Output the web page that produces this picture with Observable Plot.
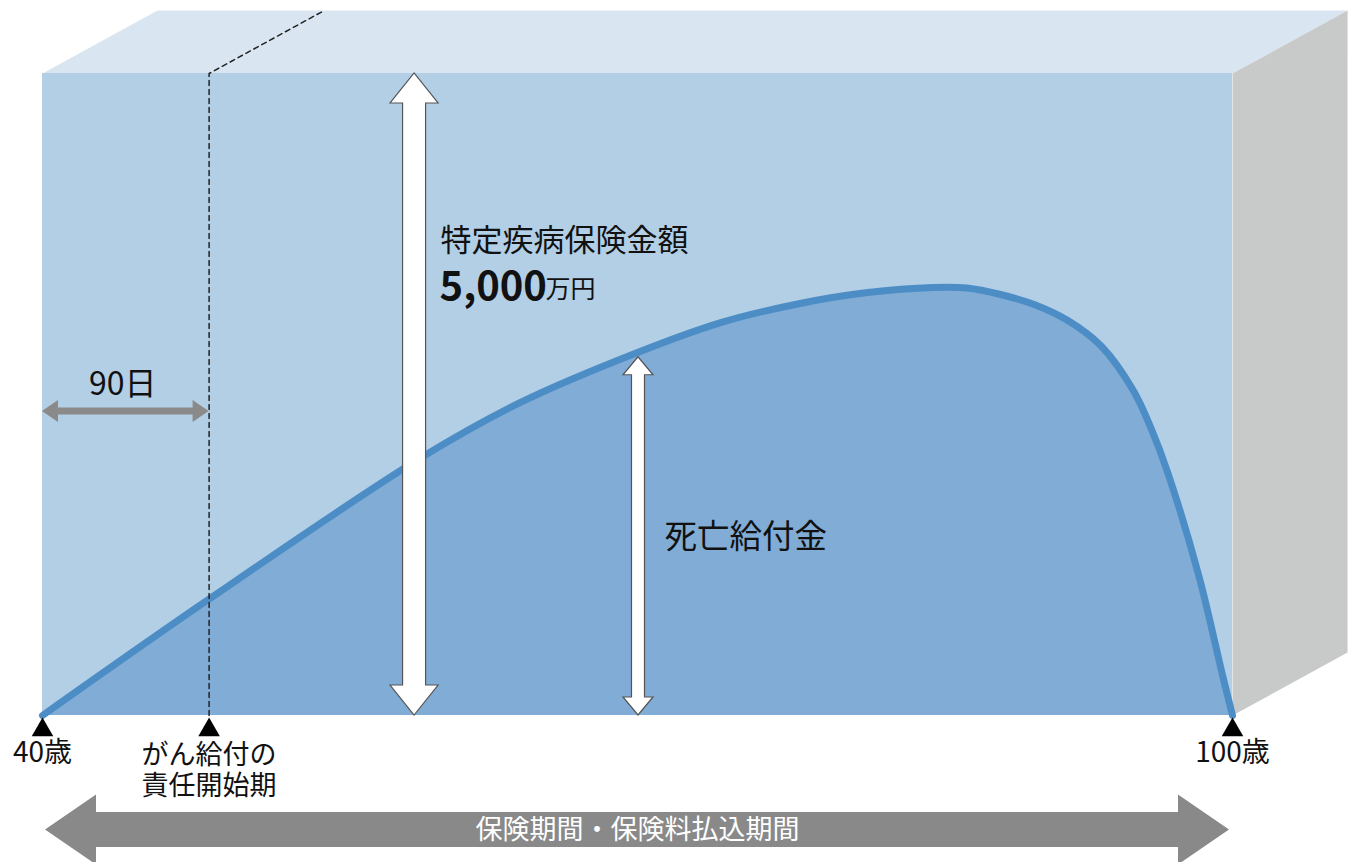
<!DOCTYPE html>
<html><head><meta charset="utf-8">
<script src="https://cdn.jsdelivr.net/npm/d3@7"></script>
<script src="https://cdn.jsdelivr.net/npm/@observablehq/plot@0.6"></script>
<style>body{margin:0;background:#fff} svg{display:block}</style>
</head><body><div id="chart"></div>
<script>
// ---- data ----
const curveAges   = [40, 48.3, 59.1, 64.1, 70.0, 74.2, 78.2, 81.6, 84.9, 86.6, 88.3, 90.0, 91.7, 93.4, 95.0, 95.9, 96.7, 98.3, 99.5, 100];
const curveValues = [0, 896, 2009, 2438, 2827, 3060, 3209, 3294, 3333, 3329, 3279, 3201, 3076, 2874, 2531, 2235, 1908, 1090, 312, 0];
const ageStart = 40, ageEnd = 100, cancerStartAge = 48.4;
const sumInsured = 5000;            // 万円
const markerAges   = [40, 48.4, 100];
const markerLabels = ["40歳", "がん給付の\n責任開始期", "100歳"];
const sumArrowAge = 58.76, deathArrowAge = 70.05, deathArrowTop = 2790;
const depthAge = 5.8, depthValue = 490;  // 3D box depth offsets

const curve = curveAges.map((a, i) => ({age: a, value: curveValues[i]}));
const font = "'Noto Sans CJK JP', 'Noto Sans', sans-serif";

function blockArrow({x1, y1, x2, y2, ox1 = 0, ox2 = 0, oy = 0, shaft, head, headLen, fill, stroke = "none", strokeWidth = 1}) {
  return (index, scales) => {
    const X1 = scales.x(x1) + ox1, X2 = scales.x(x2) + ox2;
    const Y1 = scales.y(y1) + oy, Y2 = scales.y(y2) + oy;
    const L = Math.hypot(X2 - X1, Y2 - Y1), ux = (X2 - X1) / L, uy = (Y2 - Y1) / L, nx = -uy, ny = ux;
    const a = [X1 + ux * headLen, Y1 + uy * headLen], b = [X2 - ux * headLen, Y2 - uy * headLen];
    const p = (q, s) => [q[0] + nx * s, q[1] + ny * s];
    const pts = [[X1, Y1], p(a, head), p(a, shaft), p(b, shaft), p(b, head), [X2, Y2], p(b, -head), p(b, -shaft), p(a, -shaft), p(a, -head)];
    const g = d3.create("svg:g");
    g.append("path").attr("d", "M" + pts.map(q => q.join(",")).join("L") + "Z")
      .attr("fill", fill).attr("stroke", stroke).attr("stroke-width", strokeWidth).attr("stroke-linejoin", "miter");
    return g.node();
  };
}

const topFace = [
  {age: ageStart, value: sumInsured}, {age: ageEnd, value: sumInsured},
  {age: ageEnd + depthAge, value: sumInsured + depthValue}, {age: ageStart + depthAge, value: sumInsured + depthValue}
];
const rightFace = [
  {age: ageEnd, value: 0}, {age: ageEnd, value: sumInsured},
  {age: ageEnd + depthAge, value: sumInsured + depthValue}, {age: ageEnd + depthAge, value: depthValue}
];
const dashed = [
  {age: cancerStartAge, value: 0}, {age: cancerStartAge, value: sumInsured},
  {age: cancerStartAge + depthAge, value: sumInsured + depthValue}
];

const chart = Plot.plot({
  width: 1357, height: 862,
  marginTop: 0, marginRight: 0, marginBottom: 0, marginLeft: 0,
  x: {domain: [ageStart, ageEnd], range: [42, 1232], axis: null},
  y: {domain: [0, sumInsured], range: [715, 73], axis: null},
  style: {fontFamily: font, background: "#fff", overflow: "visible"},
  marks: [
    Plot.line(topFace, {x: "age", y: "value", fill: "#d9e6f1", stroke: "none", curve: "linear-closed"}),
    Plot.line(rightFace, {x: "age", y: "value", fill: "#c8c9c9", stroke: "none", curve: "linear-closed"}),
    Plot.rect([null], {x1: ageStart, x2: ageEnd, y1: 0, y2: sumInsured, fill: "#b3cfe6"}),
    Plot.areaY(curve, {x: "age", y: "value", fill: "#80acd5", curve: "catmull-rom"}),
    Plot.line(curve, {x: "age", y: "value", stroke: "#4d8dc6", strokeWidth: 7, curve: "catmull-rom"}),
    Plot.line(dashed, {x: "age", y: "value", stroke: "#222", strokeWidth: 1.5, strokeDasharray: "5,4"}),
    blockArrow({x1: sumArrowAge, y1: 0, x2: sumArrowAge, y2: sumInsured, shaft: 11.5, head: 24, headLen: 30, fill: "#fff", stroke: "#555", strokeWidth: 1.2}),
    blockArrow({x1: deathArrowAge, y1: 0, x2: deathArrowAge, y2: deathArrowTop, shaft: 6.5, head: 15, headLen: 18, fill: "#fff", stroke: "#555", strokeWidth: 1.2}),
    blockArrow({x1: ageStart, y1: 2367, x2: cancerStartAge, y2: 2367, shaft: 3.5, head: 11, headLen: 16, fill: "#8a8a8a"}),
    blockArrow({x1: ageStart, y1: 0, x2: ageEnd, y2: 0, ox1: 3, ox2: -3, oy: 114.5, shaft: 17.5, head: 35, headLen: 51, fill: "#898989"}),
    Plot.dot(markerAges, {x: d => d, y: 0, symbol: "triangle", r: 8, fill: "#000", stroke: "none", dy: 14.5}),
    Plot.text(markerAges, {x: d => d, y: 0, text: (d, i) => markerLabels[i], fontSize: 27, fill: "#111", dy: 54, lineHeight: 1.17, filter: (d, i) => i === 1}),
    Plot.text(markerAges, {x: d => d, y: 0, text: (d, i) => markerLabels[i], fontSize: 28, fill: "#111", dy: 38, filter: (d, i) => i !== 1}),
    Plot.text([null], {x: ageStart, y: 0, text: () => "保険期間・保険料払込期間", fontSize: 27, fill: "#fff", dy: 115, dx: 595}),
    Plot.text([null], {x: (ageStart + cancerStartAge) / 2, y: 2578, text: () => "90日", fontSize: 32, fill: "#111", dx: -3}),
    Plot.text([null], {x: sumArrowAge, y: 3692, text: () => "特定疾病保険金額", fontSize: 31, fill: "#111", textAnchor: "start", dx: 26}),
    Plot.text([null], {x: sumArrowAge, y: 3335, text: () => "5,000", fontSize: 40, fontWeight: 700, fill: "#111", textAnchor: "start", dx: 25}),
    Plot.text([null], {x: sumArrowAge, y: 3314, text: () => "万円", fontSize: 25, fill: "#111", textAnchor: "start", dx: 131}),
    Plot.text([null], {x: deathArrowAge, y: 1386, text: () => "死亡給付金", fontSize: 32.5, fill: "#111", textAnchor: "start", dx: 26})
  ]
});
document.getElementById("chart").append(chart);
</script>
</body></html>
